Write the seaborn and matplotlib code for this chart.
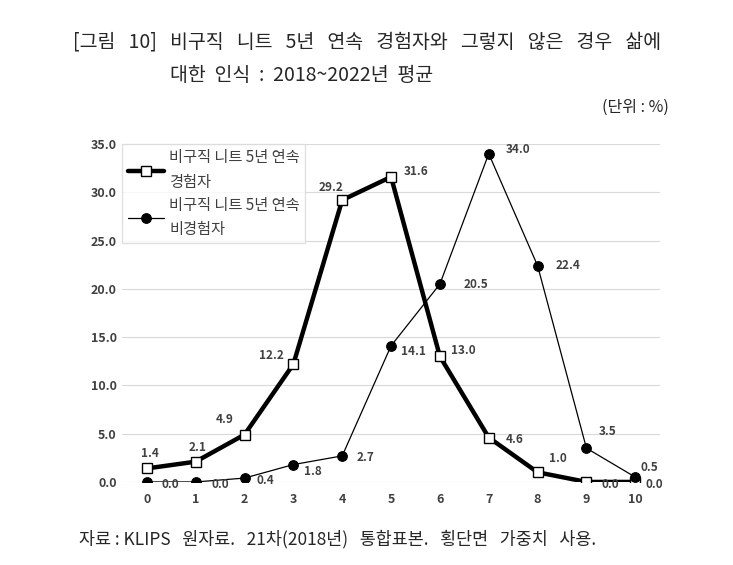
import numpy as np
import pandas as pd
import matplotlib
matplotlib.use("Agg")
import matplotlib.pyplot as plt
import seaborn as sns

sns.set_style("white")
plt.rcParams['font.family'] = ['Noto Sans CJK KR', 'DejaVu Sans']

# 데이터
scores = list(range(11))
exp_vals = [1.4, 2.1, 4.9, 12.2, 29.2, 31.6, 13.0, 4.6, 1.0, 0.0, 0.0]
nonexp_vals = [0.0, 0.0, 0.4, 1.8, 2.7, 14.1, 20.5, 34.0, 22.4, 3.5, 0.5]
series_names = ['비구직 니트 5년 연속\n경험자', '비구직 니트 5년 연속\n비경험자']
yticks = [0, 5, 10, 15, 20, 25, 30, 35]

# 라벨 위치 오프셋 (points)
exp_off = [(2, 11), (1, 10), (-14, 11), (-16, 6), (-8, 9), (18, 4), (17, 4), (19, -1.5),
           (14.5, 10), (17, -1.5), (14, -1.5)]
nonexp_off = [(17, -2), (18, -2), (15, -2), (14, -5), (17, -1.5), (16, -4), (26, 0), (21, 3),
              (22, 0), (15, 12), (10, 7)]

df = pd.DataFrame({'x': scores * 2,
                   'y': exp_vals + nonexp_vals,
                   's': [series_names[0]] * 11 + [series_names[1]] * 11})

fig = plt.figure(figsize=(7.33, 5.65), dpi=100)
ax = fig.add_axes([0.167, 0.147, 0.733, 0.598])

sns.lineplot(data=df[df.s == series_names[0]], x='x', y='y', ax=ax, color='black',
             linewidth=3.2, marker='s', markersize=7, markerfacecolor='white',
             markeredgecolor='black', markeredgewidth=1.0, label=series_names[0])
sns.lineplot(data=df[df.s == series_names[1]], x='x', y='y', ax=ax, color='black',
             linewidth=0.9, marker='o', markersize=7, markerfacecolor='black',
             markeredgecolor='black', label=series_names[1])

for xv, yv, off in zip(scores, exp_vals, exp_off):
    ax.annotate(f'{yv:.1f}', (xv, yv), xytext=off, textcoords='offset points',
                ha='center', va='center', fontsize=8.5, color='#404040', fontweight='bold')
for xv, yv, off in zip(scores, nonexp_vals, nonexp_off):
    ax.annotate(f'{yv:.1f}', (xv, yv), xytext=off, textcoords='offset points',
                ha='center', va='center', fontsize=8.5, color='#404040', fontweight='bold')

ax.set_xlim(-0.5, 10.5)
ax.set_ylim(0, 35)
ax.set_xticks(scores)
ax.set_yticks(yticks)
ax.set_yticklabels([f'{v:.1f}' for v in yticks])
ax.tick_params(length=0, labelsize=9, colors='#404040')
ax.tick_params(axis='y', pad=4)
ax.tick_params(axis='x', pad=8)
for lab in ax.get_xticklabels() + ax.get_yticklabels():
    lab.set_fontweight('bold')
ax.yaxis.grid(True, color='#d9d9d9', linewidth=0.8)
ax.set_axisbelow(True)
for sp in ax.spines.values():
    sp.set_visible(False)
ax.set_xlabel('')
ax.set_ylabel('')

leg = ax.legend(loc='upper left', bbox_to_anchor=(0.0, 1.0), borderaxespad=0, fontsize=11,
                frameon=True, fancybox=False, edgecolor='#d9d9d9', handlelength=2.4,
                handletextpad=0.3, labelspacing=0.4, borderpad=0.35)
for t in leg.get_texts():
    t.set_color('#404040')
    t.set_linespacing(1.55)

fig.text(0.100, 0.925, '[그림   10]   비구직   니트   5년   연속   경험자와   그렇지   않은   경우   삶에',
         fontsize=14, ha='left', va='center')
fig.text(0.232, 0.867, '대한  인식  :  2018~2022년  평균', fontsize=14, ha='left', va='center')
fig.text(0.912, 0.81, '(단위 : %)', fontsize=11.5, ha='right', va='center')
fig.text(0.108, 0.045, '자료 : KLIPS   원자료.   21차(2018년)   통합표본.   횡단면   가중치   사용.',
         fontsize=12.5, ha='left', va='center')

fig.savefig('out.png', dpi=100)
